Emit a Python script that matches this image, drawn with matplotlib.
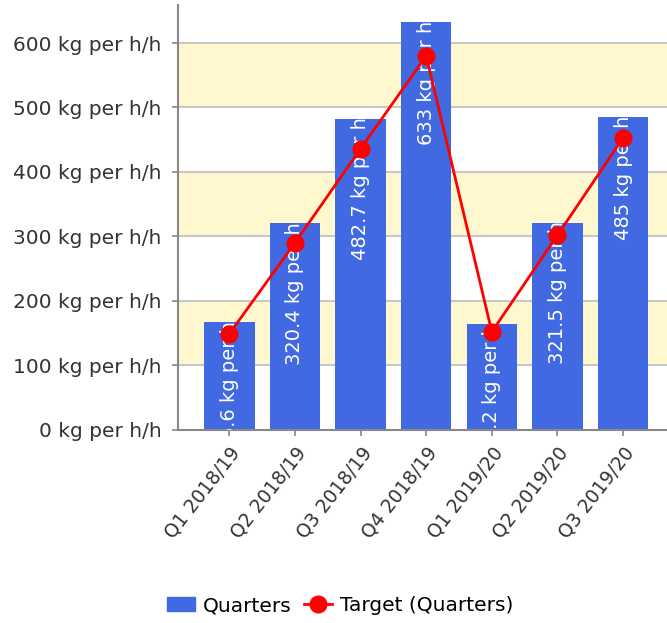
import numpy as np
import matplotlib
matplotlib.use('Agg')
from matplotlib import pyplot as plt
from matplotlib.lines import Line2D
from matplotlib.patches import Patch

quarters = ['Q1 2018/19', 'Q2 2018/19', 'Q3 2018/19', 'Q4 2018/19',
            'Q1 2019/20', 'Q2 2019/20', 'Q3 2019/20']
actual = [166.6, 320.4, 482.7, 633, 164.2, 321.5, 485]
target = [149, 290, 436, 580, 152, 302, 453]
yticks = [0, 100, 200, 300, 400, 500, 600]

barColor = '#4169E1'
bandColor = '#FFF7CE'
gridColor = '#C8C8C8'
axisColor = '#888888'

plt.rcParams['font.family'] = ['DejaVu Sans']

fig = plt.figure(figsize=(6.67, 6.23), dpi=100)
ax = fig.add_axes([0.267, 0.31, 0.74, 0.682])

x = np.arange(len(quarters))
ax.set_xlim(-0.78, 6.74)
ax.set_ylim(0, 659)

# alternating background bands
for i in range(len(yticks) - 1):
    if i % 2 == 1:
        ax.axhspan(yticks[i], yticks[i + 1], color=bandColor, zorder=0, lw=0)
for yt in yticks[1:]:
    ax.axhline(yt, color=gridColor, lw=1.5, zorder=0.5)

bars = ax.bar(x, actual, width=0.77, color=barColor, zorder=2)

# value labels inside the bars, clipped to the bar
for bar, val in zip(bars, actual):
    label = ('%g' % val) + ' kg per h/h'
    t = ax.annotate(label, (bar.get_x() + bar.get_width() / 2, val),
                    xytext=(0, 20), textcoords='offset pixels',
                    rotation=90, ha='center', va='top', color='white',
                    fontsize=14, zorder=3)
    t.set_clip_path(bar)

ax.plot(x, target, color='red', lw=2, marker='o', markersize=12, zorder=4)

ax.set_yticks(yticks)
ax.set_yticklabels(['%d kg per h/h' % v for v in yticks], fontsize=14.5)
ax.set_xticks(x)
ax.set_xticklabels(quarters, rotation=52, ha='right', rotation_mode='anchor',
                   fontsize=13.5)
ax.tick_params(axis='both', colors=axisColor, length=4, width=1.2, labelcolor='#333333')
ax.tick_params(axis='x', pad=6)
ax.tick_params(axis='y', pad=8)

for side in ['top', 'right']:
    ax.spines[side].set_visible(False)
for side in ['left', 'bottom']:
    ax.spines[side].set_color(axisColor)
    ax.spines[side].set_linewidth(1.5)

handles = [Patch(facecolor=barColor, edgecolor=barColor),
           Line2D([0], [0], color='red', lw=2, marker='o', markersize=12)]
fig.legend(handles, ['Quarters', 'Target (Quarters)'], loc='center',
           bbox_to_anchor=(0.51, 0.028), ncol=2, frameon=False, fontsize=14.5,
           handlelength=1.4, handletextpad=0.4, columnspacing=0.6)

plt.savefig('out.png', dpi=100)
plt.close()
